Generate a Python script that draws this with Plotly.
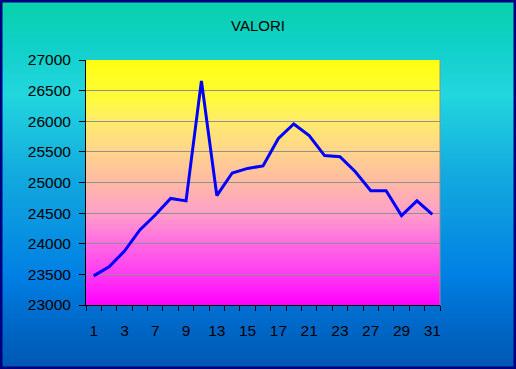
import plotly.graph_objects as go

# ---- data ----
days = ["1", "2", "3", "6", "7", "8", "9", "10", "13", "14", "15", "16",
        "17", "20", "21", "22", "23", "24", "27", "28", "29", "30", "31"]
valori = [23475, 23625, 23880, 24225, 24470, 24740, 24700, 26660, 24785,
          25155, 25230, 25270, 25720, 25955, 25765, 25440, 25420, 25175,
          24865, 24865, 24460, 24700, 24480]
tick_labels = [d if i % 2 == 0 else "" for i, d in enumerate(days)]
y_ticks = list(range(23000, 27001, 500))
y_tick_labels = [str(v) for v in y_ticks]

# ---- geometry ----
W, H = 516, 369
ML, MR, MT, MB = 86, 76, 60, 64
PW, PH = W - ML - MR, H - MT - MB


def xp(px):
    return (px - ML) / PW


def yp(py):
    return (H - MB - py) / PH


def interp(stops, t):
    for (t0, c0), (t1, c1) in zip(stops, stops[1:]):
        if t <= t1:
            f = 0 if t1 == t0 else (t - t0) / (t1 - t0)
            f = min(max(f, 0), 1)
            return "rgb(%d,%d,%d)" % tuple(round(a + (b - a) * f) for a, b in zip(c0, c1))
    return "rgb(%d,%d,%d)" % stops[-1][1]


paper_stops = [(0, (8, 210, 170)), (45, (16, 208, 200)), (95, (34, 214, 222)),
               (170, (20, 172, 222)), (275, (0, 128, 228)), (320, (0, 106, 202)),
               (369, (0, 86, 178))]
plot_stops = [(60, (255, 255, 16)), (100, (255, 250, 60)), (122, (255, 235, 110)),
              (152, (255, 212, 140)), (182, (255, 186, 165)), (213, (255, 160, 200)),
              (245, (255, 104, 228)), (275, (255, 58, 242)), (305, (255, 0, 255))]

shapes = []
for py in range(0, H):
    shapes.append(dict(type="rect", xref="paper", yref="paper", layer="below",
                       x0=xp(0), x1=xp(W), y0=yp(py + 1.6), y1=yp(py),
                       line=dict(width=0), fillcolor=interp(paper_stops, py + 0.5)))
for py in range(MT, H - MB):
    shapes.append(dict(type="rect", xref="paper", yref="paper", layer="below",
                       x0=0, x1=1, y0=max(0, yp(py + 1.6)), y1=yp(py),
                       line=dict(width=0), fillcolor=interp(plot_stops, py + 0.5)))
# gray right border of plot area
shapes.append(dict(type="line", xref="paper", yref="paper", layer="below",
                   x0=1, x1=1, y0=0, y1=1, line=dict(color="#909090", width=1)))
# navy outer frame
shapes.append(dict(type="rect", xref="paper", yref="paper", layer="above",
                   x0=xp(1), x1=xp(W - 1), y0=yp(H - 1), y1=yp(1),
                   line=dict(color="#000080", width=3)))

fig = go.Figure()
fig.add_trace(go.Scatter(x=days, y=valori, mode="lines",
                         line=dict(color="#0000ff", width=3),
                         showlegend=False, hoverinfo="x+y"))

font = "Liberation Sans, Arial, sans-serif"
fig.update_layout(
    width=W, height=H,
    margin=dict(l=ML, r=MR, t=MT, b=MB, pad=0),
    paper_bgcolor="rgba(0,0,0,0)", plot_bgcolor="rgba(0,0,0,0)",
    font=dict(family=font, size=15, color="black"),
    title=dict(text="VALORI", x=0.5, xref="container", xanchor="center",
               y=1 - 25.5 / H, yanchor="middle", font=dict(size=15, color="black")),
    shapes=shapes,
    showlegend=False,
)
fig.update_xaxes(type="category", categoryorder="array", categoryarray=days,
                 range=[-0.5, len(days) - 0.5],
                 tickmode="array", tickvals=days, ticktext=tick_labels,
                 tickson="boundaries", ticks="outside", ticklen=5, tickangle=0,
                 tickcolor="black", tickwidth=1, showline=True, linecolor="black",
                 linewidth=1, showgrid=False, zeroline=False,
                 ticklabelstandoff=11, tickfont=dict(size=15.5, color="black"))
fig.update_yaxes(range=[23000, 27000], tickmode="array", tickvals=y_ticks,
                 ticktext=y_tick_labels,
                 ticks="outside", ticklen=6, tickcolor="black", tickwidth=1,
                 showline=True, linecolor="black", linewidth=1,
                 showgrid=True, gridcolor="#909090", gridwidth=1, zeroline=False,
                 ticklabelstandoff=5, tickfont=dict(size=15.5, color="black"))

fig.write_html("out.html", config={"displayModeBar": False},
               post_script="document.body.style.margin='0';document.body.style.overflow='hidden';")
